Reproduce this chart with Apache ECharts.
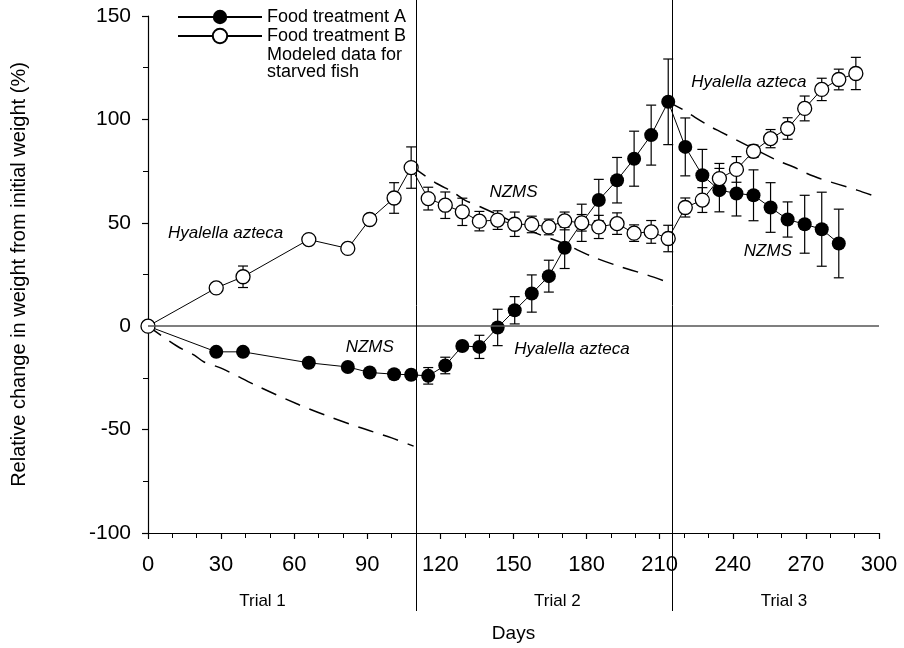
<!DOCTYPE html>
<html>
<head>
<meta charset="utf-8">
<script src="https://cdn.jsdelivr.net/npm/echarts@6/dist/echarts.min.js"></script>
<style>
  html, body { margin: 0; padding: 0; background: #fff; }
  #main { width: 904px; height: 648px; }
</style>
</head>
<body>
<div id="main"></div>
<script>
const FONT = '"Liberation Sans", Arial, sans-serif'
const NAME_A = 'Food treatment A'
const NAME_B = 'Food treatment B'
const NAME_MODEL = 'Modeled data for\nstarved fish'

// Food treatment A (filled circles)
const daysA = [0, 28, 39, 66, 82, 91, 101, 108, 115, 122, 129, 136, 143.5, 150.5, 157.5, 164.5, 171, 178, 185, 192.5, 199.5, 206.5, 213.5, 220.5, 227.5, 234.5, 241.5, 248.5, 255.5, 262.5, 269.5, 276.5, 283.5]
const valuesA = [0, -12.4, -12.4, -17.7, -19.7, -22.4, -23.2, -23.5, -24, -19, -9.6, -10, -0.6, 7.7, 15.8, 24.2, 37.9, 50, 61, 70.6, 81, 92.4, 108.5, 86.7, 73, 65.8, 64.2, 63.3, 57.4, 51.6, 49.3, 46.9, 40]
const errorsA = [0, 0, 0, 0, 0, 0, 0, 0, 4, 4, 0, 5.6, 8.8, 6.6, 9, 7.7, 10, 9, 10, 11, 13.3, 14.5, 20.7, 14, 12.5, 10.5, 10.9, 12.3, 12, 8.5, 14, 17.9, 16.6]

// Food treatment B (open circles)
const daysB = [0, 28, 39, 66, 82, 91, 101, 108, 115, 122, 129, 136, 143.5, 150.5, 157.5, 164.5, 171, 178, 185, 192.5, 199.5, 206.5, 213.5, 220.5, 227.5, 234.5, 241.5, 248.5, 255.5, 262.5, 269.5, 276.5, 283.5, 290.5]
const valuesB = [0, 18.5, 23.9, 41.9, 37.6, 51.6, 62, 76.7, 61.7, 58.5, 55.3, 50.8, 51.3, 49.3, 49.2, 48, 50.9, 50, 48, 49.6, 45, 45.6, 42.4, 57.4, 61, 71.4, 75.8, 84.6, 90.7, 95.6, 105.3, 114.5, 119.3, 122.2]
const errorsB = [0, 0, 5.2, 0, 0, 0, 7.4, 10, 5.5, 6.4, 6.6, 4.7, 4.5, 5.9, 4, 3.8, 4.3, 4, 5.6, 5.2, 4, 5.5, 6.4, 4.6, 6, 7.3, 6.2, 3, 4.4, 5.2, 6, 5.4, 5, 7.8]

// modeled starved fish, one curve per trial
const model1Days = [0, 12, 19, 23, 30, 45, 62, 75, 87, 100, 109]
const model1Values = [0, -9.7, -14, -17.3, -20.3, -29, -38, -44, -49, -54, -58]
const model2Days = [108.5, 118.5, 125, 130, 137, 147, 158, 170.5, 182, 192, 205, 213]
const model2Values = [77, 69, 65, 61, 57.4, 52, 45.6, 40, 33.8, 29.5, 24.7, 21.4]
const model3Days = [213.5, 220, 224.5, 231, 235, 241.6, 258, 265, 269, 275.7, 291, 299]
const model3Values = [108.5, 104.4, 101, 96.4, 94, 90, 80.3, 77, 74.6, 71.4, 65.8, 62.5]

const trialBreaks = [110, 215]
const trialLabels = ['Trial 1', 'Trial 2', 'Trial 3']
const trialLabelDays = [47, 168, 261]

const notes = ['Hyalella azteca', 'NZMS', 'NZMS', 'Hyalella azteca', 'Hyalella azteca', 'NZMS']
const noteDays = [8.2, 91, 150, 174, 246.6, 254.4]
const noteValues = [45, -10, 65, -11.3, 117.8, 36]
const noteAlign = ['left', 'center', 'center', 'center', 'center', 'center']

const pairs = (xs, ys) => xs.map((x, i) => [x, ys[i]])

function errorBars(days, values, errors) {
  return {
    type: 'custom',
    silent: true,
    z: 1,
    data: days.map((d, i) => [d, values[i] - errors[i], values[i] + errors[i]]).filter((_, i) => errors[i] > 0),
    renderItem(params, api) {
      const lo = api.coord([api.value(0), api.value(1)])
      const hi = api.coord([api.value(0), api.value(2)])
      const cap = 5
      const style = { stroke: '#000', lineWidth: 1.2 }
      return {
        type: 'group',
        children: [
          { type: 'line', shape: { x1: lo[0], y1: lo[1], x2: hi[0], y2: hi[1] }, style },
          { type: 'line', shape: { x1: hi[0] - cap, y1: hi[1], x2: hi[0] + cap, y2: hi[1] }, style },
          { type: 'line', shape: { x1: lo[0] - cap, y1: lo[1], x2: lo[0] + cap, y2: lo[1] }, style },
        ]
      }
    }
  }
}

function modelSeries(days, values) {
  return {
    name: NAME_MODEL,
    type: 'line',
    data: pairs(days, values),
    showSymbol: false,
    smooth: 0.3,
    silent: true,
    z: 2,
    lineStyle: { color: '#000', width: 1.5, type: [16, 10] },
    itemStyle: { color: '#000' },
  }
}

const chart = echarts.init(document.getElementById('main'), null, { renderer: 'canvas' })

const option = {
  animation: false,
  backgroundColor: '#fff',
  textStyle: { fontFamily: FONT },
  grid: { left: 148, right: 25, top: 16, bottom: 115, containLabel: false, outerBoundsMode: 'none' },
  legend: {
    left: 172,
    top: 3,
    orient: 'vertical',
    itemWidth: 84,
    itemHeight: 18,
    itemGap: 1,
    selectedMode: false,
    textStyle: { fontFamily: FONT, fontSize: 18, color: '#000', lineHeight: 17 },
    data: [
      { name: NAME_A },
      { name: NAME_B },
      { name: NAME_MODEL, icon: 'circle', itemStyle: { opacity: 0 }, lineStyle: { opacity: 0 } },
    ],
  },
  xAxis: {
    type: 'value',
    min: 0,
    max: 300,
    interval: 30,
    name: 'Days',
    nameLocation: 'middle',
    nameGap: 91,
    nameTextStyle: { fontFamily: FONT, fontSize: 19, color: '#000' },
    axisLine: { onZero: false, lineStyle: { color: '#000', width: 1.2 } },
    axisTick: { length: 6, lineStyle: { color: '#000', width: 1.2 } },
    minorTick: { show: true, splitNumber: 3, length: 5, lineStyle: { color: '#000', width: 1 } },
    axisLabel: { fontFamily: FONT, fontSize: 22, color: '#000', margin: 21 },
    splitLine: { show: false },
  },
  yAxis: {
    type: 'value',
    min: -100,
    max: 150,
    interval: 50,
    name: 'Relative change in weight from initial weight (%)',
    nameLocation: 'middle',
    nameGap: 119,
    nameTextStyle: { fontFamily: FONT, fontSize: 20, color: '#000' },
    axisLine: { show: true, onZero: false, lineStyle: { color: '#000', width: 1.2 } },
    axisTick: { show: true, length: 6, lineStyle: { color: '#000', width: 1.2 } },
    minorTick: { show: true, splitNumber: 2, length: 5, lineStyle: { color: '#000', width: 1 } },
    axisLabel: { fontFamily: FONT, fontSize: 21, color: '#000', margin: 17 },
    splitLine: { show: false },
  },
  series: [
    errorBars(daysA, valuesA, errorsA),
    errorBars(daysB, valuesB, errorsB),
    modelSeries(model1Days, model1Values),
    modelSeries(model2Days, model2Values),
    modelSeries(model3Days, model3Values),
    {
      name: NAME_A,
      type: 'line',
      data: pairs(daysA, valuesA),
      symbol: 'circle',
      symbolSize: 14,
      z: 3,
      lineStyle: { color: '#000', width: 1 },
      itemStyle: { color: '#000' },
      markLine: {
        silent: true,
        symbol: 'none',
        label: { show: false },
        lineStyle: { color: '#555', width: 1.5, type: 'solid' },
        data: [{ yAxis: 0 }],
      },
    },
    {
      name: NAME_B,
      type: 'line',
      data: pairs(daysB, valuesB),
      symbol: 'circle',
      symbolSize: 14,
      z: 4,
      lineStyle: { color: '#000', width: 1 },
      itemStyle: { color: '#fff', borderColor: '#000', borderWidth: 1.3 },
    },
  ],
}

chart.setOption(option)

// reference lines, trial labels and italic notes placed through the axes
const toPx = (x, y) => chart.convertToPixel({ gridIndex: 0 }, [x, y])
const graphics = []
trialBreaks.forEach(day => {
  const x = Math.round(toPx(day, 0)[0]) + 0.5
  graphics.push({ type: 'line', silent: true, z: 10, shape: { x1: x, y1: 0, x2: x, y2: 611 }, style: { stroke: '#000', lineWidth: 1 } })
})
trialLabels.forEach((label, i) => {
  const x = toPx(trialLabelDays[i], 0)[0]
  graphics.push({ type: 'text', silent: true, x, y: 601, style: { text: label, fontFamily: FONT, fontSize: 17, fill: '#000', align: 'center', verticalAlign: 'middle' } })
})
notes.forEach((note, i) => {
  const [x, y] = toPx(noteDays[i], noteValues[i])
  graphics.push({ type: 'text', silent: true, x, y, style: { text: note, fontFamily: FONT, fontStyle: 'italic', fontSize: 17, fill: '#000', align: noteAlign[i], verticalAlign: 'middle' } })
})
chart.setOption({ graphic: graphics })
</script>
</body>
</html>
